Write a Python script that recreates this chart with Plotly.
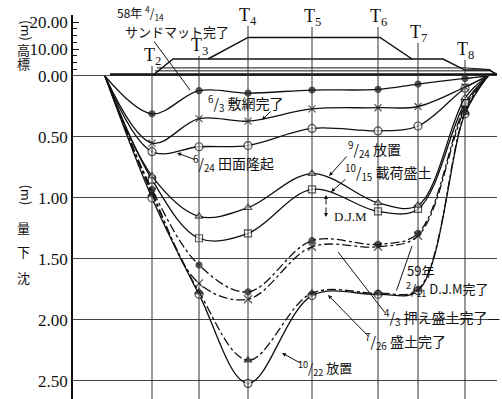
import plotly.graph_objects as go

# ---------------- data ----------------
station_names = ["T<sub>2</sub>", "T<sub>3</sub>", "T<sub>4</sub>", "T<sub>5</sub>", "T<sub>6</sub>", "T<sub>7</sub>", "T<sub>8</sub>"]
station_x = [79, 126, 175, 239, 305, 345, 392]
curve_x = [32, 79, 126, 175, 239, 305, 345, 392, 415]

# settlement (m) at start, T2..T8, end
s_0414 = [0, 0.31, 0.12, 0.14, 0.115, 0.11, 0.066, 0.02, 0]
s_0603 = [0, 0.55, 0.35, 0.37, 0.27, 0.26, 0.25, 0.09, 0]
s_0624 = [0, 0.62, 0.58, 0.57, 0.43, 0.45, 0.41, 0.10, 0]
s_0924 = [0, 0.82, 1.15, 1.08, 0.80, 1.04, 1.06, 0.18, 0]
s_1015 = [0, 0.85, 1.33, 1.29, 0.93, 1.11, 1.09, 0.22, 0]
s_0211 = [0, 0.93, 1.55, 1.77, 1.35, 1.38, 1.29, 0.25, 0]
s_0403 = [0, 0.95, 1.70, 1.83, 1.40, 1.40, 1.31, 0.27, 0]
s_0726 = [0, 0.97, 1.77, 2.33, 1.78, 1.78, 1.75, 0.30, 0]
s_1022 = [0, 1.00, 1.79, 2.52, 1.80, 1.79, 1.76, 0.31, 0]

# embankment profile (height, m)
emb1_x = [79, 100, 370, 392, 417, 424]
emb1_h = [0, 6.3, 6.3, 2.2, 2.2, 0.3]
emb2_x = [135, 175, 307, 339]
emb2_h = [6.3, 14.3, 14.3, 6.3]
layer1_x = [84, 392, 417]
layer1_h = [3.0, 3.0, 2.4]
layer2_x = [82, 417, 424]
layer2_h = [1.9, 1.9, 0.8]
mat_x = [37, 424]
mat_h = [0.6, 0.6]
ground_x = [0, 424]
ground_h = [0, 0]

h_ticks = [0, 10, 20]
s_ticks = [0.5, 1.0, 1.5, 2.0, 2.5]

# ---------------- figure ----------------
W, H = 502, 399
ML = 73
S_RANGE = [2.648, 0]
H_TOP = 22.6
D1 = 1 - 76 / H
D2 = 1 - 15 / H


def X(px):
    return px - ML


def S(py):
    return (py - 76) / 122.0


def HH(py):
    return (76 - py) / 2.7


def HD(py):
    return (76 - py) / 61.0


fig = go.Figure()

K = "#111111"
for xs, hs, w in [(ground_x, ground_h, 1.6), (mat_x, mat_h, 2.4), (layer2_x, layer2_h, 1.0),
                  (layer1_x, layer1_h, 1.0), (emb1_x, emb1_h, 1.5), (emb2_x, emb2_h, 1.5)]:
    fig.add_trace(go.Scatter(x=xs, y=hs, mode="lines", yaxis="y2", cliponaxis=False,
                             line=dict(color=K, width=w), hoverinfo="skip", showlegend=False))

curves = [
    (s_1022, "solid", "circle", 8, "white"),
    (s_0726, "dashdot", "triangle-up", 7, K),
    (s_0403, "dashdot", "x-thin-open", 8, K),
    (s_0211, "dashdot", "circle", 6, K),
    (s_1015, "solid", "square", 7, "white"),
    (s_0924, "solid", "triangle-up", 7, "white"),
    (s_0624, "solid", "circle", 8, "white"),
    (s_0603, "solid", "x-thin-open", 7, K),
    (s_0414, "solid", "circle", 6, K),
]
for vals, dash, sym, sz, fill in curves:
    sizes = [0] + [sz] * 7 + [0]
    fig.add_trace(go.Scatter(
        x=curve_x, y=vals, mode="lines+markers", yaxis="y",
        line=dict(color=K, width=1.3, dash=dash, shape="spline", smoothing=1.0),
        marker=dict(symbol=sym, size=sizes, color=fill, line=dict(color=K, width=1.2)),
        hoverinfo="skip", showlegend=False))

shapes = []
label_py = [56, 46, 16, 17, 17, 33, 50]
for sx, lp in zip(station_x, label_py):
    shapes.append(dict(type="line", xref="x", yref="y", x0=sx, x1=sx,
                       y0=S_RANGE[0], y1=0, line=dict(color="#333", width=1)))
    shapes.append(dict(type="line", xref="x", yref="y2", x0=sx, x1=sx,
                       y0=0, y1=HH(lp + 10), line=dict(color="#333", width=1)))

ann = []
for name, sx, lp in zip(station_names, station_x, label_py):
    ann.append(dict(x=sx, y=HH(lp), xref="x", yref="y2", text=name, showarrow=False,
                    font=dict(family="Liberation Serif", size=18, color=K)))

JP = "Noto Sans CJK JP"
SER = "Liberation Serif"


def txt(px, py, t, size=13, fam=JP):
    ann.append(dict(x=X(px), y=S(py), xref="x", yref="y", text=t, showarrow=False,
                    font=dict(family=fam, size=size, color=K)))


def lead(px0, py0, px1, py1, head=0):
    ann.append(dict(x=X(px1), y=S(py1), ax=X(px0), ay=S(py0), xref="x", yref="y",
                    axref="x", ayref="y", text="", showarrow=True, arrowhead=head,
                    arrowsize=0.8, arrowwidth=1, arrowcolor=K))


def htxt(px, py, t, size=13, fam=JP):
    ann.append(dict(x=X(px), y=HH(py), xref="x", yref="y2", text=t, showarrow=False,
                    font=dict(family=fam, size=size, color=K)))


ann.append(dict(x=X(140), y=HD(1), xref="x", yref="y2 domain", yanchor="top",
                text="58年 <sup>4</sup>/<sub>14</sub>",
                showarrow=False, font=dict(family=JP, size=12, color=K)))
htxt(177, 31, "サンドマット完了", 13)
ann.append(dict(x=X(190), y=S(90), ax=X(153), ay=S(40), xref="x", yref="y",
                axref="x", ayref="y", text="", showarrow=True, arrowhead=0,
                arrowwidth=1, arrowcolor=K))

txt(246, 103, "<sup>6</sup>/<sub>3</sub> 敷網完了", 14)
lead(272, 110, 262, 120, 2)
txt(233, 164, "<sup>6</sup>/<sub>24</sub> 田面隆起", 14)
lead(196, 160, 177, 153, 2)
txt(374, 150, "<sup>9</sup>/<sub>24</sub> 放置", 14)
lead(348, 155, 329, 176, 2)
txt(388, 173, "<sup>10</sup>/<sub>15</sub> 載荷盛土", 14)
lead(347, 178, 331, 192, 2)
txt(350, 217, "D.J.M", 13, SER)
lead(326, 206, 326, 195, 2)
lead(326, 206, 326, 217, 2)
txt(420, 271, "59年", 13)
txt(447, 289, "<sup>2</sup>/<sub>11</sub> D.J.M完了", 13)
lead(396, 292, 412, 246, 0)
txt(442, 318, "<sup>4</sup>/<sub>3</sub> 押え盛土完了—", 14)
lead(386, 314, 338, 252, 0)
txt(405, 342, "<sup>7</sup>/<sub>26</sub> 盛土完了", 14)
lead(370, 338, 328, 295, 2)
txt(325, 368, "<sup>10</sup>/<sub>22</sub> 放置", 13)
lead(302, 364, 282, 353, 2)

XP = lambda px: (px - ML) / (W - ML - 5)
for ch, py in [("(m)", 18), ("高", 49), ("標", 75)]:
    ann.append(dict(x=XP(15), y=HD(py), xref="paper", yref="y2 domain",
                    text=ch, showarrow=False, textangle=90 if ch == "(m)" else 0,
                    font=dict(family=JP, size=13, color=K)))
for ch, py in [("(m)", 195), ("量", 228), ("下", 252), ("沈", 278)]:
    ann.append(dict(x=XP(15), y=S(py), xref="paper", yref="y",
                    text=ch, showarrow=False, textangle=90 if ch == "(m)" else 0,
                    font=dict(family=JP, size=13, color=K)))

fig.update_layout(
    width=W, height=H,
    margin=dict(l=ML, r=5, t=0, b=0, pad=0, autoexpand=False),
    paper_bgcolor="white", plot_bgcolor="white",
    showlegend=False,
    xaxis=dict(range=[0, W - ML - 5], showgrid=False, zeroline=False, showticklabels=False,
               ticks="", showline=False, automargin=False),
    yaxis=dict(domain=[0, D1], range=S_RANGE, tickvals=s_ticks, tickformat=".2f",
               showgrid=True, gridcolor="#444", gridwidth=1, zeroline=False,
               showline=True, linecolor=K, linewidth=1.5, ticks="", automargin=False,
               tickfont=dict(family=SER, size=17, color=K)),
    yaxis2=dict(domain=[D1, D2], range=[0, H_TOP], tickvals=h_ticks, tickformat=".2f",
                showgrid=False, zeroline=False, showline=True, linecolor=K, linewidth=1.5,
                ticks="inside", ticklen=6, tickcolor=K, automargin=False,
                minor=dict(dtick=2.5, ticks="inside", ticklen=4, tickcolor=K),
                anchor="x", tickfont=dict(family=SER, size=17, color=K)),
    shapes=shapes,
    annotations=ann,
)

fig.write_html("out.html")
